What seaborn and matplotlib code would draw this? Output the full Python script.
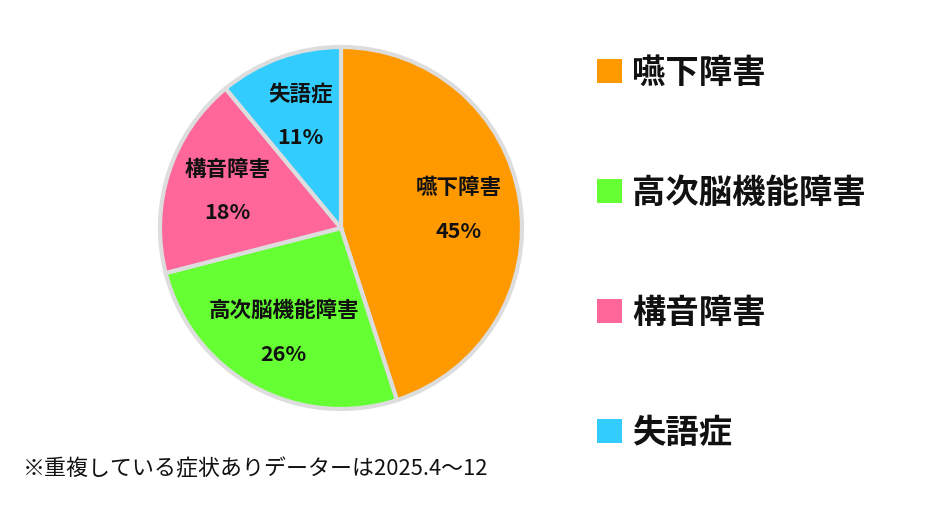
import numpy as np
import seaborn as sns
import matplotlib.pyplot as plt
from matplotlib.patches import Patch

sns.set_theme(style="white")
plt.rcParams['font.family'] = ['Noto Sans CJK JP', 'DejaVu Sans']

labels = ["嚥下障害", "高次脳機能障害", "構音障害", "失語症"]
values = [45, 26, 18, 11]
colors = ["#FF9900", "#66FF33", "#FF6699", "#33CCFF"]
note = "※重複している症状ありデーターは2025.4～12"

fig = plt.figure(figsize=(9.29, 5.14), dpi=100)
ax = fig.add_axes([0.1722, 0.2043, 0.3897, 0.7043])

wedges, _ = ax.pie(values, colors=colors, startangle=90, counterclock=False,
                   wedgeprops=dict(edgecolor="#dddddd", linewidth=3))
ax.set_xlim(-1, 1)
ax.set_ylim(-1, 1)
ax.set_aspect("equal")

# labels inside slices
total = sum(values)
start = 90.0
for lab, v in zip(labels, values):
    span = 360.0 * v / total
    mid = np.deg2rad(start - span / 2)
    start -= span
    r = 0.66
    x, y = r * np.cos(mid), r * np.sin(mid)
    ax.text(x, y + 0.12, lab, ha="center", va="center", fontsize=15.5,
            fontweight="bold", color="#111111")
    ax.text(x, y - 0.12, f"{v}%", ha="center", va="center", fontsize=15.5,
            fontweight="bold", color="#111111")

handles = [Patch(facecolor=c, edgecolor="none") for c in colors]
leg = fig.legend(handles, labels, loc="upper left", bbox_to_anchor=(0.6105, 0.948),
                 frameon=False, fontsize=24, handlelength=0.75, handleheight=0.75,
                 handletextpad=0.3, labelspacing=2.61)
for t in leg.get_texts():
    t.set_fontweight("bold")
    t.set_color("#111111")

fig.text(0.025, 0.087, note, ha="left", va="center", fontsize=15.8, color="#111111")

fig.savefig("out.png", dpi=100)
